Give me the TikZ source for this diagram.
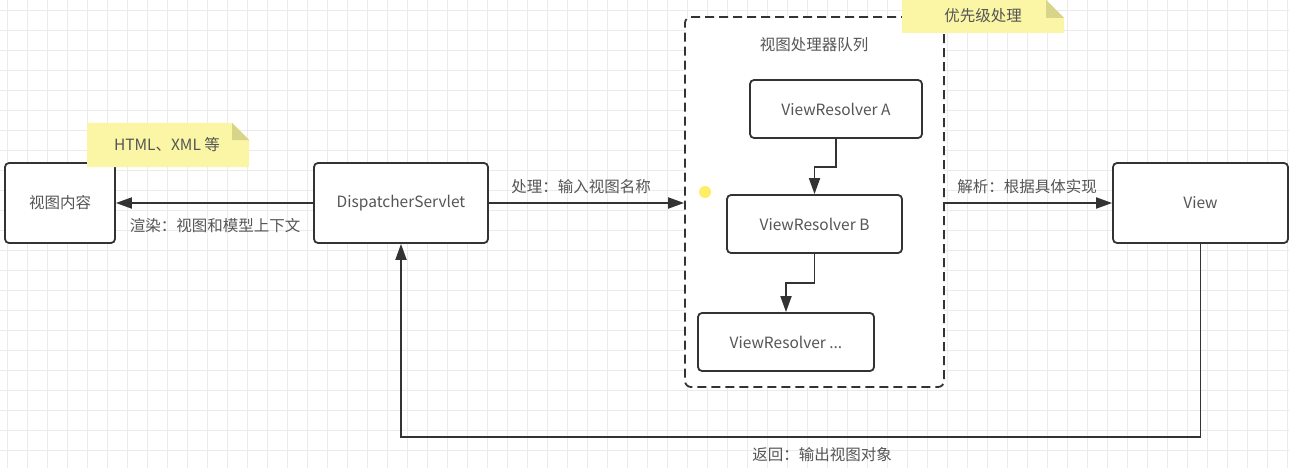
\documentclass[tikz,border=0pt]{standalone}
\usepackage{fontspec}
\setmainfont{Noto Sans CJK SC}
\usetikzlibrary{arrows.meta}
\definecolor{bordc}{HTML}{333333}
\definecolor{txtc}{HTML}{555555}
\definecolor{gridc}{HTML}{EBEBEB}
\definecolor{notec}{HTML}{FAF6A6}
\definecolor{foldc}{HTML}{D8D48A}
\tikzset{
  box/.style={draw=bordc, line width=1.8pt, rounded corners=4pt, fill=white, text=txtc,
    font=\fontsize{15.5}{18}\selectfont, inner sep=0pt},
  conn/.style={draw=bordc, line width=1.8pt, -{Triangle[length=16pt,width=11pt]}},
  lbl/.style={text=txtc, font=\fontsize{15.5}{18}\selectfont, inner sep=1pt},
  notebox/.style={fill=notec, draw=none}
}
\begin{document}
\begin{tikzpicture}[x=1pt,y=-1pt]
\useasboundingbox (0,0) rectangle (1289,468);
\fill[white] (0,0) rectangle (1289,468);
% grid
\foreach \i in {0,20,...,1280} \draw[gridc, line width=0.6pt] (\i+7,0) -- (\i+7,468);
\foreach \j in {0,20,...,460} \draw[gridc, line width=0.6pt] (0,\j+10) -- (1289,\j+10);

% dashed container
\node[draw=bordc, line width=1.8pt, dashed, dash pattern=on 9pt off 5pt, rounded corners=6pt,
  minimum width=259pt, minimum height=370pt, inner sep=0pt, fill=white] (queue) at (814.5,202) {};
\node[lbl] (qtitle) at (814,45) {视图处理器队列};

% boxes
\node[box, minimum width=110pt, minimum height=80pt] (content) at (60,203) {视图内容};
\node[box, minimum width=174pt, minimum height=80pt] (ds) at (401,203) {DispatcherServlet};
\node[box, minimum width=172pt, minimum height=58pt] (va) at (836,109) {ViewResolver A};
\node[box, minimum width=175pt, minimum height=58pt] (vb) at (814.5,224) {ViewResolver B};
\node[box, minimum width=176pt, minimum height=58pt] (vc) at (786,342) {ViewResolver ...};
\node[box, minimum width=175pt, minimum height=80pt] (view) at (1200.5,203) {View};

% notes
\fill[notec] (87,123) -- (232,123) -- (249,140) -- (249,167) -- (87,167) -- cycle;
\fill[foldc] (232,123) -- (249,140) -- (232,140) -- cycle;
\node[lbl] (note1) at (167,145) {HTML、XML 等};
\fill[notec] (902,0) -- (1046,0) -- (1064,18) -- (1064,33) -- (902,33) -- cycle;
\fill[foldc] (1046,0) -- (1064,18) -- (1046,18) -- cycle;
\node[lbl] (note2) at (983,16) {优先级处理};

% yellow dot
\fill[yellow!85!orange!60] (705,192) circle (6pt);

% connectors
\draw[conn] (ds.west) -- (content.east);
\node[lbl] (l1) at (215,226) {渲染：视图和模型上下文};
\draw[conn] (ds.east) -- (queue.west |- ds.east);
\node[lbl] (l2) at (581,187) {处理：输入视图名称};
\draw[conn] (queue.east |- view.west) -- (view.west);
\node[lbl] (l3) at (1027,187) {解析：根据具体实现};
\draw[conn] (va.south) -- (836,167) -| (vb.north);
\draw[conn] (vb.south) -- (814.5,283) -| (vc.north);
\draw[conn] (view.south) -- (1200.5,437) -| (ds.south);
\node[lbl] (l4) at (822,455) {返回：输出视图对象};
\end{tikzpicture}
\end{document}
